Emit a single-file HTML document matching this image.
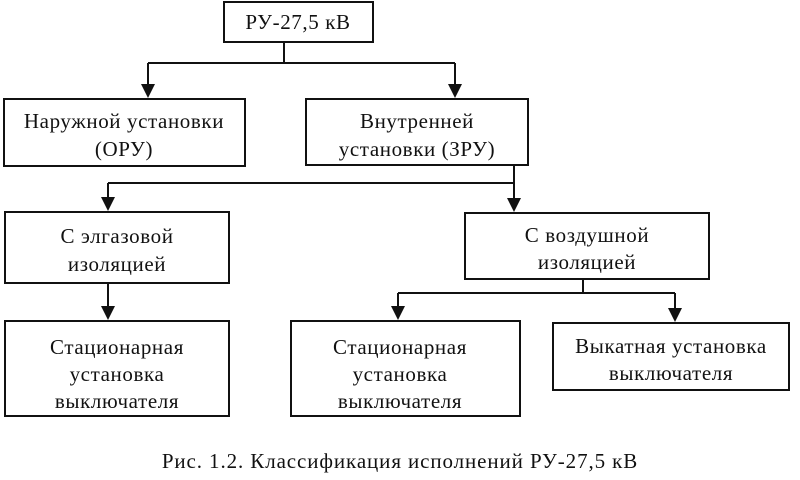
<!DOCTYPE html>
<html><head><meta charset="utf-8"><style>
body{margin:0;background:#fff;}
svg{display:block;font-family:"Liberation Serif","DejaVu Serif",serif;}
text{font-size:21px;letter-spacing:0.6px;fill:#111;text-anchor:middle;}
rect{fill:#fff;stroke:#111;stroke-width:2;}
line{stroke:#111;stroke-width:2;}
polygon{fill:#111;}
</style></head><body>
<svg width="800" height="480" viewBox="0 0 800 480">
<rect x="224" y="2" width="149" height="40"/>
<text x="298" y="29">РУ-27,5 кВ</text>
<line x1="284" y1="42" x2="284" y2="63"/>
<line x1="148" y1="63" x2="455" y2="63"/>
<line x1="148" y1="63" x2="148" y2="86"/><polygon points="141,84 155,84 148,98"/>
<line x1="455" y1="63" x2="455" y2="86"/><polygon points="448,84 462,84 455,98"/>
<rect x="4" y="99" width="241" height="67"/>
<text x="124" y="128">Наружной установки</text>
<text x="124" y="156">(ОРУ)</text>
<rect x="306" y="99" width="222" height="66"/>
<text x="417" y="128">Внутренней</text>
<text x="417" y="156">установки (ЗРУ)</text>
<line x1="514" y1="165" x2="514" y2="200"/>
<line x1="108" y1="183" x2="514" y2="183"/>
<line x1="108" y1="183" x2="108" y2="199"/><polygon points="101,197 115,197 108,211"/>
<polygon points="507,198 521,198 514,212"/>
<rect x="5" y="212" width="224" height="71"/>
<text x="117" y="243">С элгазовой</text>
<text x="117" y="271">изоляцией</text>
<rect x="465" y="213" width="244" height="66"/>
<text x="587" y="242">С воздушной</text>
<text x="587" y="269">изоляцией</text>
<line x1="108" y1="283" x2="108" y2="308"/><polygon points="101,306 115,306 108,320"/>
<line x1="583" y1="279" x2="583" y2="293"/>
<line x1="398" y1="293" x2="675" y2="293"/>
<line x1="398" y1="293" x2="398" y2="308"/><polygon points="391,306 405,306 398,320"/>
<line x1="675" y1="293" x2="675" y2="310"/><polygon points="668,308 682,308 675,322"/>
<rect x="5" y="321" width="224" height="95"/>
<text x="117" y="354">Стационарная</text>
<text x="117" y="381">установка</text>
<text x="117" y="408">выключателя</text>
<rect x="291" y="321" width="229" height="95"/>
<text x="400" y="354">Стационарная</text>
<text x="400" y="381">установка</text>
<text x="400" y="408">выключателя</text>
<rect x="553" y="323" width="236" height="67"/>
<text x="671" y="353">Выкатная установка</text>
<text x="671" y="380">выключателя</text>
<text x="400" y="468" style="font-size:21px;letter-spacing:0.9px">Рис. 1.2. Классификация исполнений РУ-27,5 кВ</text>
</svg>
</body></html>
